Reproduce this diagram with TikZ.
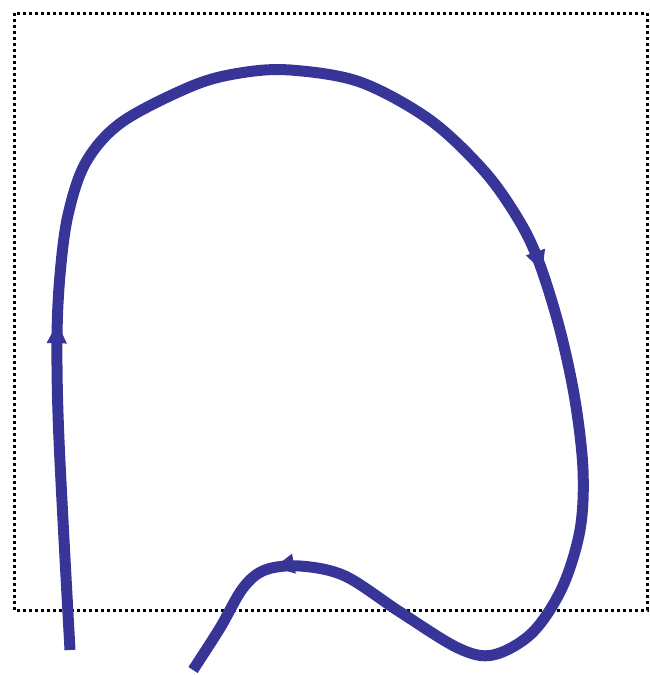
\documentclass[tikz,border=0pt]{standalone}
\usetikzlibrary{arrows.meta,decorations.markings}
\definecolor{loopblue}{RGB}{56,53,153}
\begin{document}
\begin{tikzpicture}[x=1pt,y=-1pt,
  frame/.style={draw=black,line width=3pt,dash pattern=on 3pt off 3pt},
  looptip/.style={loopblue,line width=1pt},
  loopline/.style={draw=loopblue,line width=11pt,
    postaction={decorate},
    decoration={markings,
      mark=at position 0.175 with {\arrow[looptip]{Triangle[length=20pt,width=20pt]}},
      mark=at position 0.571 with {\arrow[looptip]{Triangle[length=20pt,width=20pt]}},
      mark=at position 0.928 with {\arrow[looptip]{Triangle[length=20pt,width=20pt]}}}}]
\useasboundingbox (0,0) rectangle (649,675);
\draw[frame] (14,13) rectangle (647,610);
\draw[loopline] plot[smooth,tension=0.55] coordinates {
  (70,650) (59,440) (57,340) (60,275) (68,215) (86,162) (122,122) (192,86)
  (240,73) (290,70) (360,82) (430,120) (485,172) (520,222) (540,265)
  (560,330) (575,400) (583,470) (580,530) (562,588) (532,633) (493,655)
  (458,648) (400,612) (345,576) (300,566) (265,570) (243,588) (220,628) (193,670)};
\end{tikzpicture}
\end{document}
